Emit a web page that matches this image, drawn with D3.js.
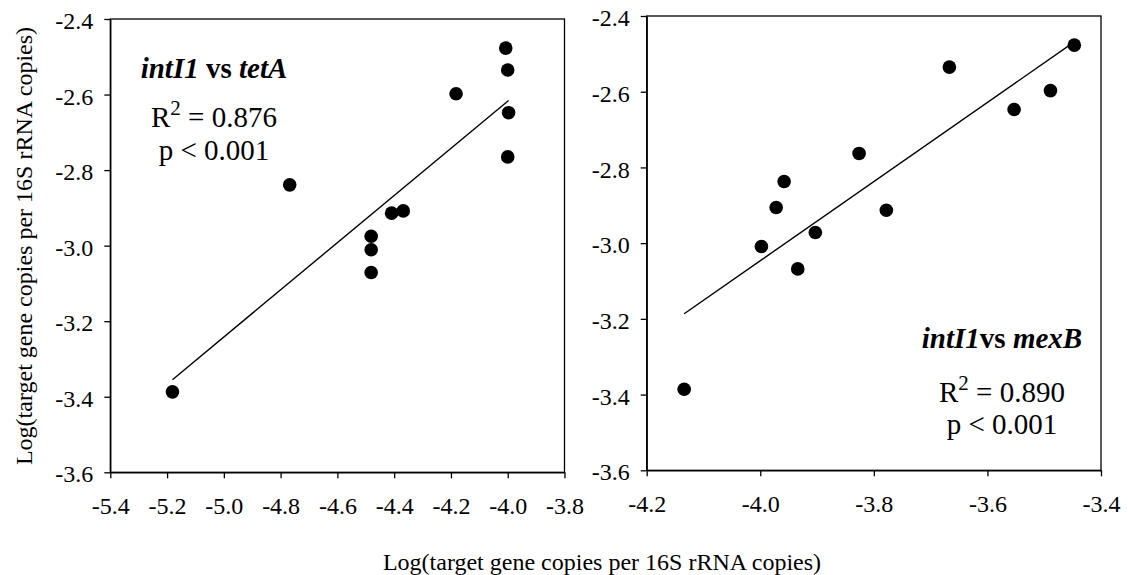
<!DOCTYPE html>
<html>
<head>
<meta charset="utf-8">
<script src="https://cdn.jsdelivr.net/npm/d3@7"></script>
<style>
  html, body { margin: 0; padding: 0; background: #fff; }
  svg { display: block; }
  svg text { font-family: "Liberation Serif", "Times New Roman", serif; fill: #000; }
</style>
</head>
<body>
<svg id="chart" width="1128" height="575"></svg>
<script>
// Log intI1 abundance (y) against log tetA / mexB abundance (x), both per 16S rRNA copies
const tetAX   = [-4.007, -4.000, -4.182, -3.997, -4.000, -4.768, -4.409, -4.368, -4.481, -4.481, -4.481, -5.181];
const tetAY   = [-2.477, -2.535, -2.598, -2.648, -2.765, -2.839, -2.914, -2.908, -2.975, -3.011, -3.071, -3.387];
const mexBX   = [-3.447, -3.667, -3.489, -3.553, -3.826, -3.958, -3.972, -3.778, -3.903, -3.998, -3.934, -4.134];
const mexBY   = [-2.477, -2.535, -2.597, -2.647, -2.763, -2.837, -2.906, -2.913, -2.972, -3.009, -3.068, -3.386];

const xTicksTetA = [-5.4, -5.2, -5.0, -4.8, -4.6, -4.4, -4.2, -4.0, -3.8];
const xTicksMexB = [-4.2, -4.0, -3.8, -3.6, -3.4];
const yTicks     = [-2.4, -2.6, -2.8, -3.0, -3.2, -3.4, -3.6];

const statsTetA = { r2: "0.876", p: "p < 0.001" };
const statsMexB = { r2: "0.890", p: "p < 0.001" };

const axisTitle = "Log(target gene copies per 16S rRNA copies)";

const svg = d3.select("#chart");
const fmt = d => d.toFixed(1);
const SERIF = '"Liberation Serif", "Times New Roman", serif';

// ordinary least-squares fit
function fit(xs, ys) {
  const n = xs.length;
  const mx = d3.mean(xs), my = d3.mean(ys);
  let sxy = 0, sxx = 0;
  for (let i = 0; i < n; i++) {
    sxy += (xs[i] - mx) * (ys[i] - my);
    sxx += (xs[i] - mx) * (xs[i] - mx);
  }
  const b = sxy / sxx;
  return x => my + b * (x - mx);
}

function panel(opts) {
  const { xs, ys, xDomain, xTicks, left, right, top, bottom } = opts;
  const x = d3.scaleLinear().domain(xDomain).range([left, right]);
  const y = d3.scaleLinear().domain([-3.6, -2.4]).range([bottom, top]);
  const g = svg.append("g");

  // frame
  g.append("rect")
    .attr("x", left).attr("y", top)
    .attr("width", right - left).attr("height", bottom - top)
    .attr("fill", "none").attr("stroke", "#000").attr("stroke-width", 1.3);

  const ax = g.append("g")
    .attr("transform", `translate(0,${bottom})`)
    .call(d3.axisBottom(x).tickValues(xTicks).tickFormat(fmt).tickSize(6).tickSizeOuter(0).tickPadding(19));
  const ay = g.append("g")
    .attr("transform", `translate(${left},0)`)
    .call(d3.axisLeft(y).tickValues(yTicks).tickFormat(fmt).tickSize(6).tickSizeOuter(0).tickPadding(11));

  [ax, ay].forEach(a => {
    a.attr("font-family", null).attr("font-size", null);
    a.select(".domain").attr("stroke", "#000").attr("stroke-width", 1.3);
    a.selectAll(".tick line").attr("stroke", "#000").attr("stroke-width", 1.3);
    a.selectAll(".tick text")
      .style("font-family", SERIF)
      .style("font-size", "24px")
      .style("fill", "#000");
  });
  ay.selectAll(".tick text").attr("dy", "0.40em");

  // regression line across the observed x range
  const f = fit(xs, ys);
  const [x0, x1] = d3.extent(xs);
  g.append("line")
    .attr("x1", x(x0)).attr("y1", y(f(x0)))
    .attr("x2", x(x1)).attr("y2", y(f(x1)))
    .attr("stroke", "#000").attr("stroke-width", 1.4);

  // observations
  g.selectAll("circle.pt")
    .data(d3.range(xs.length))
    .join("circle")
    .attr("class", "pt")
    .attr("cx", i => x(xs[i]))
    .attr("cy", i => y(ys[i]))
    .attr("r", 6.8)
    .attr("fill", "#000");

  return g;
}

const gL = panel({ xs: tetAX, ys: tetAY, xDomain: [-5.4, -3.8], xTicks: xTicksTetA,
                   left: 110.3, right: 564.5, top: 19, bottom: 472.3 });
const gR = panel({ xs: mexBX, ys: mexBY, xDomain: [-4.2, -3.4], xTicks: xTicksMexB,
                   left: 646.7, right: 1101, top: 16, bottom: 470.3 });

// annotation block: gene pair, R², p
function annotate(g, cx, yTitle, yR2, yP, gene2, gap, stats) {
  const t = g.append("text")
    .attr("x", cx).attr("y", yTitle)
    .attr("text-anchor", "middle")
    .style("font-size", "29px").style("font-weight", "bold");
  t.append("tspan").style("font-style", "italic").text("intI1");
  t.append("tspan").text(gap + "vs ");
  t.append("tspan").style("font-style", "italic").text(gene2);

  const r = g.append("text")
    .attr("x", cx).attr("y", yR2)
    .attr("text-anchor", "middle")
    .style("font-size", "29px");
  r.append("tspan").text("R");
  r.append("tspan").style("font-size", "21px").attr("dy", -12).text("2");
  r.append("tspan").attr("dy", 12).text(" = " + stats.r2);

  g.append("text")
    .attr("x", cx).attr("y", yP)
    .attr("text-anchor", "middle")
    .style("font-size", "29px")
    .text(stats.p);
}

annotate(gL, 214, 78, 127, 160, "tetA", " ", statsTetA);
annotate(gR, 1002, 348, 402, 434, "mexB", "", statsMexB);

// shared axis titles
svg.append("text")
  .attr("transform", "translate(32,246) rotate(-90)")
  .attr("text-anchor", "middle")
  .style("font-size", "24px")
  .text(axisTitle);

svg.append("text")
  .attr("x", 602).attr("y", 570)
  .attr("text-anchor", "middle")
  .style("font-size", "24px")
  .text(axisTitle);
</script>
</body>
</html>
